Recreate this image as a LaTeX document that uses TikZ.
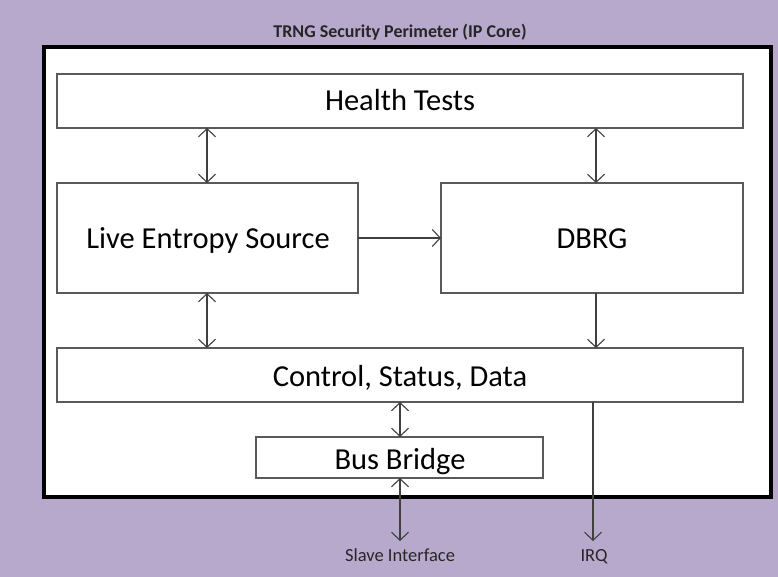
\documentclass[tikz,border=0pt]{standalone}
\usepackage{fontspec}
\setmainfont{Carlito}
\usetikzlibrary{arrows.meta}
\definecolor{lav}{HTML}{B7A9CC}
\definecolor{boxline}{HTML}{5A5A5A}
\definecolor{arr}{HTML}{404040}
\tikzset{
  blk/.style={draw=boxline, line width=2pt, fill=white, inner sep=0pt},
  big/.style={font=\fontsize{30.5}{34}\selectfont, anchor=base},
  lbl/.style={font=\fontsize{18.5}{20}\selectfont, text=black!85, anchor=base},
  con/.style={draw=arr, line width=1.1pt, -{Straight Barb[length=8pt,width=17pt]}},
  bicon/.style={draw=arr, line width=1.1pt, {Straight Barb[length=8pt,width=17pt]}-{Straight Barb[length=8pt,width=17pt]}}
}
\begin{document}
\begin{tikzpicture}[x=1pt,y=-1pt]
\fill[lav] (0,0) rectangle (778,577);
\useasboundingbox (0,0) rectangle (778,577);
\node[font=\bfseries\fontsize{18}{20}\selectfont, text=black!85, anchor=base] (title) at (400,38) {TRNG Security Perimeter (IP Core)};
\draw[black, line width=4.5pt, fill=white] (44,47) rectangle (771,497);
\path[blk] (57,74) rectangle (743,128);
\node[big] (ht) at (400,111) {Health Tests};
\coordinate (htL) at (207,128); \coordinate (htR) at (596,128);
\path[blk] (57,183) rectangle (358,293);
\node[big] (les) at (208,248) {Live Entropy Source};
\path[blk] (441,183) rectangle (743,293);
\node[big] (dbrg) at (592,248) {DBRG};
\path[blk] (57,348) rectangle (743,402);
\node[big] (csd) at (400,386) {Control, Status, Data};
\path[blk] (256,437) rectangle (543,478);
\node[big] (bb) at (400,469) {Bus Bridge};
\coordinate (lesT) at (207,183); \coordinate (lesB) at (207,293);
\coordinate (lesR) at (358,238); \coordinate (dbL) at (441,238);
\coordinate (dbT) at (596,183); \coordinate (dbB) at (596,293);
\coordinate (csTL) at (207,348); \coordinate (csTR) at (596,348);
\coordinate (csB) at (400,402); \coordinate (bbT) at (400,437);
\coordinate (bbB) at (400,478); \coordinate (si) at (400,541);
\coordinate (irqS) at (593,402); \coordinate (irqE) at (593,541);
\draw[bicon] (htL) -- (lesT);
\draw[bicon] (htR) -- (dbT);
\draw[con] (lesR) -- (dbL);
\draw[bicon] (lesB) -- (csTL);
\draw[con] (dbB) -- (csTR);
\draw[bicon] (csB) -- (bbT);
\draw[bicon] (bbB) -- (si);
\draw[con] (irqS) -- (irqE);
\node[lbl] (slv) at (400,561) {Slave Interface};
\node[lbl] (irq) at (594,561) {IRQ};
\end{tikzpicture}
\end{document}
